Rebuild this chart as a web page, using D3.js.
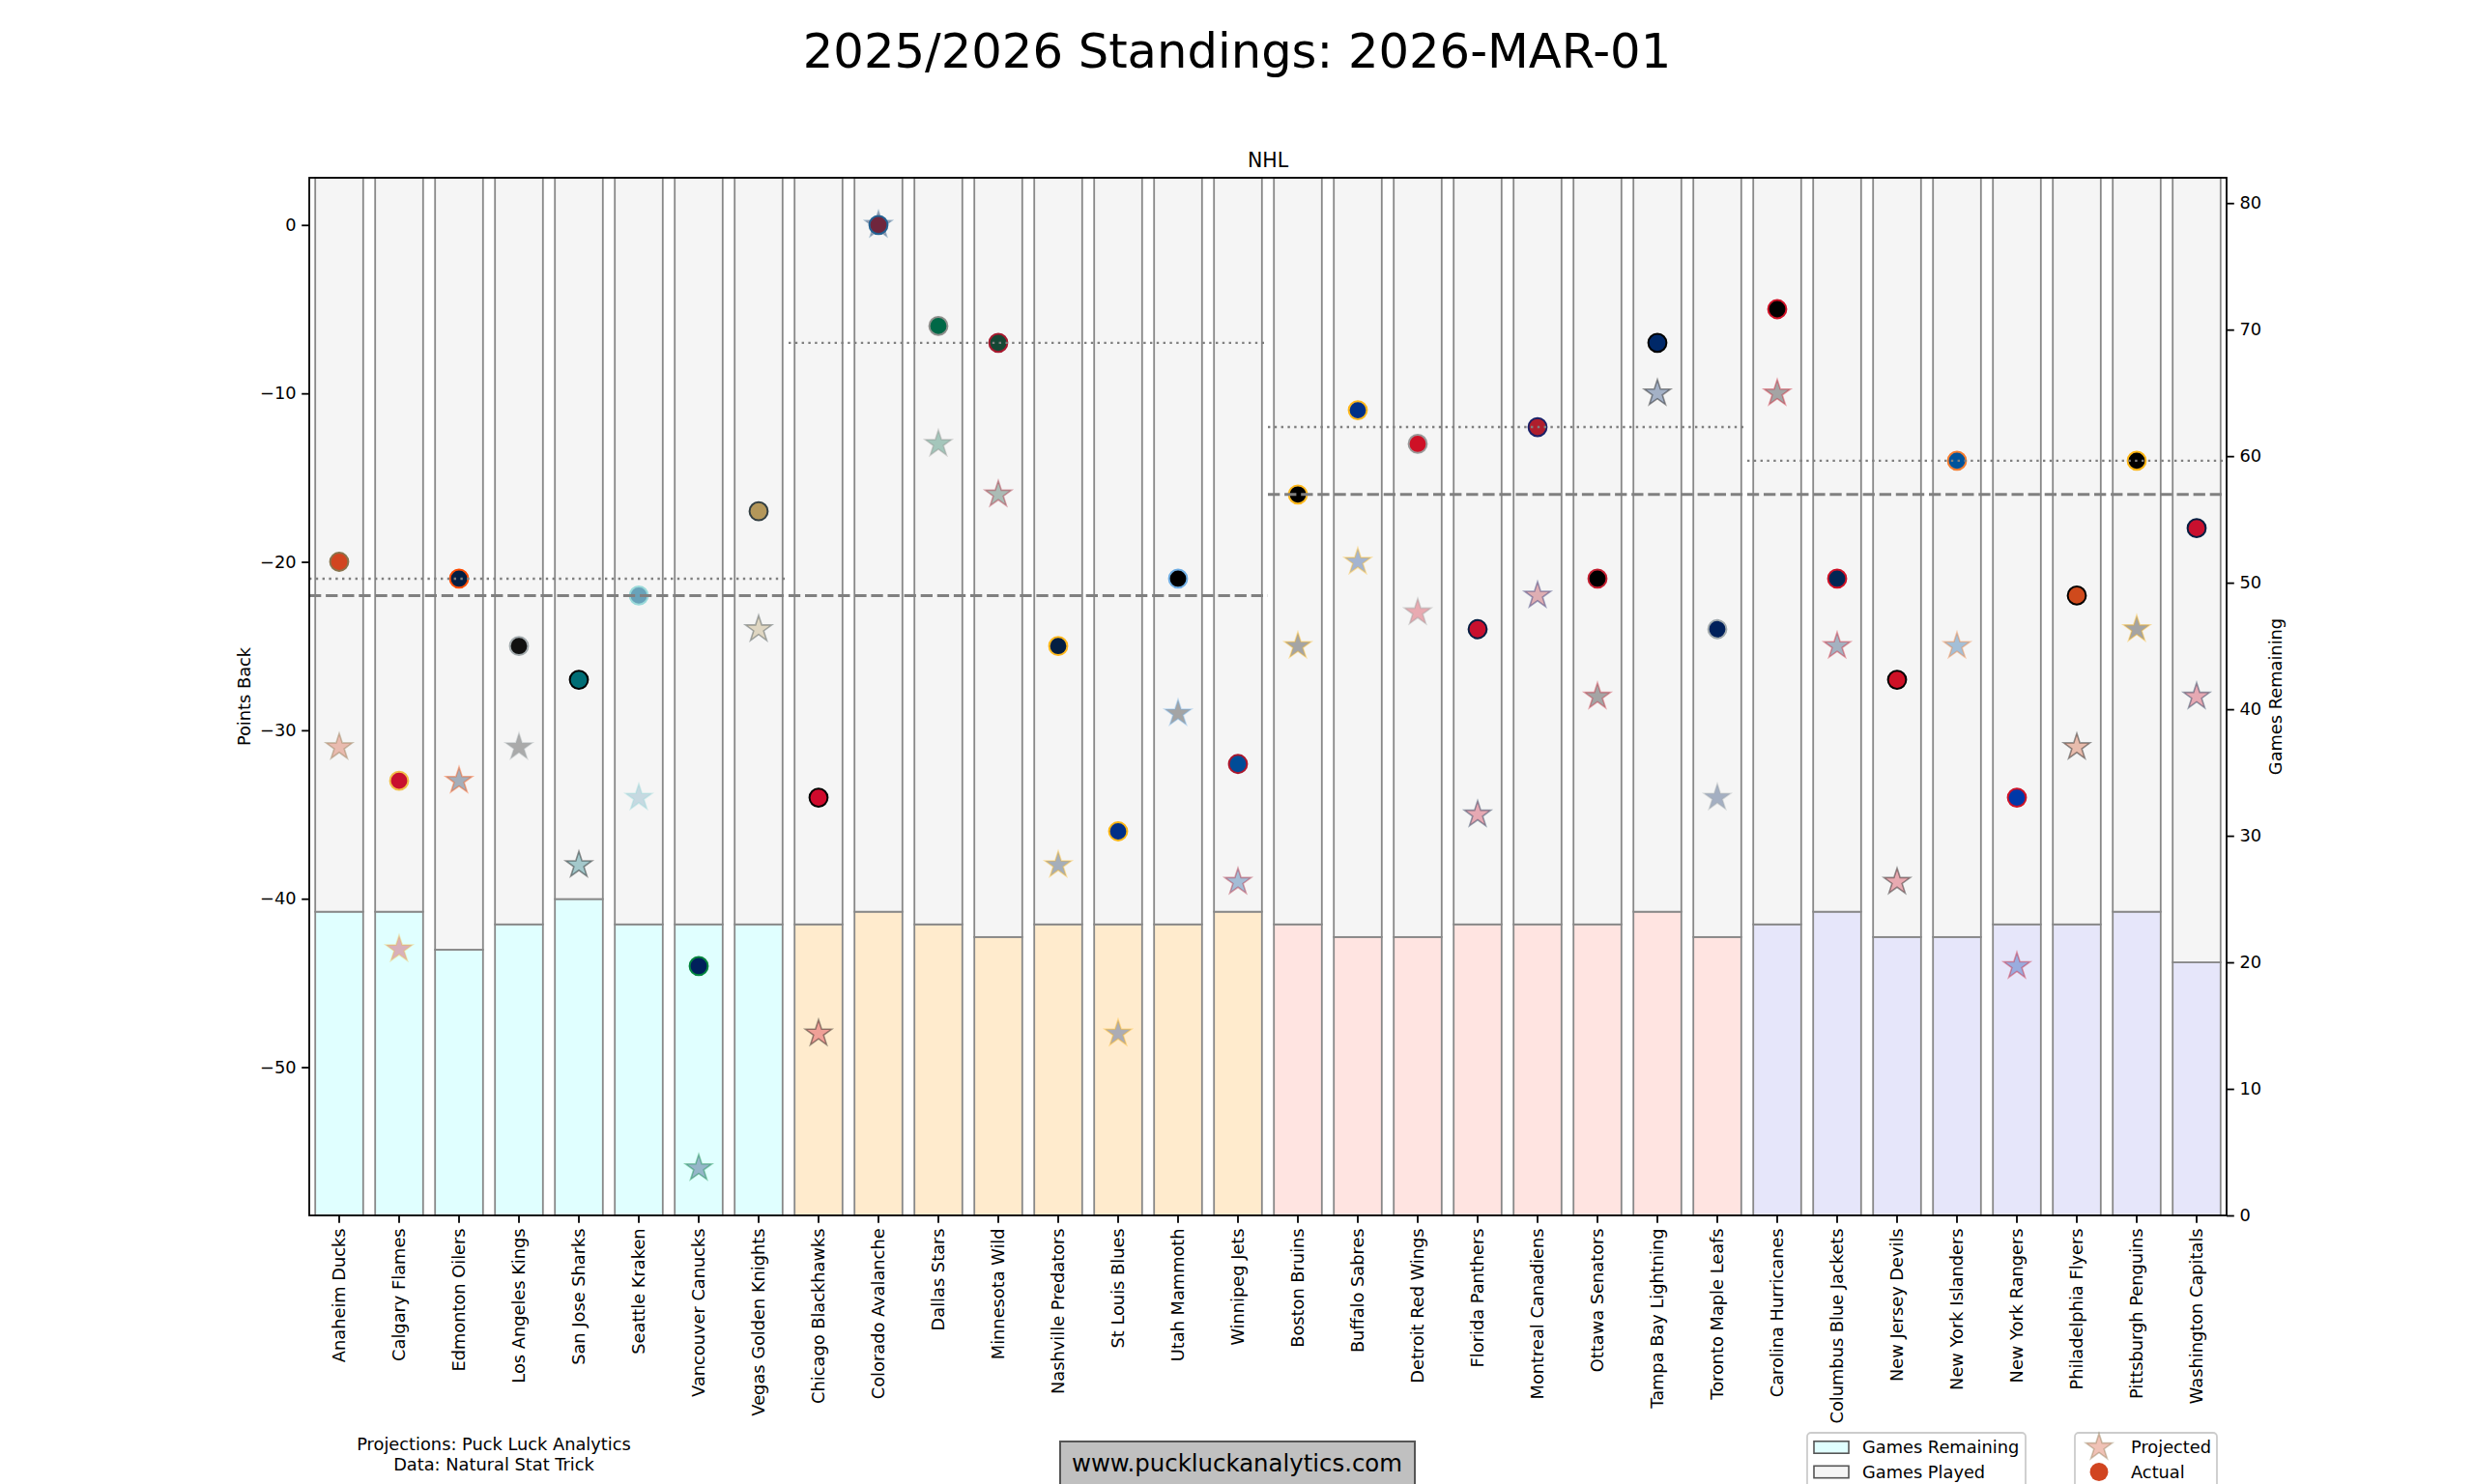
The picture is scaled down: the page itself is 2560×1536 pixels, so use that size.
<!DOCTYPE html>
<html>
<head>
<meta charset="utf-8">
<script src="https://cdn.jsdelivr.net/npm/d3@7"></script>
<style>
  body { margin: 0; background: #fff; }
  text { font-family: "DejaVu Sans", sans-serif; }
</style>
</head>
<body>
<div id="diagram_area"></div>
<script>
// Standings data

var teams = ["Anaheim Ducks", "Calgary Flames", "Edmonton Oilers", "Los Angeles Kings", "San Jose Sharks",
    "Seattle Kraken", "Vancouver Canucks", "Vegas Golden Knights", "Chicago Blackhawks", "Colorado Avalanche",
    "Dallas Stars", "Minnesota Wild", "Nashville Predators", "St Louis Blues", "Utah Mammoth", "Winnipeg Jets",
    "Boston Bruins", "Buffalo Sabres", "Detroit Red Wings", "Florida Panthers", "Montreal Canadiens",
    "Ottawa Senators", "Tampa Bay Lightning", "Toronto Maple Leafs", "Carolina Hurricanes",
    "Columbus Blue Jackets", "New Jersey Devils", "New York Islanders", "New York Rangers",
    "Philadelphia Flyers", "Pittsburgh Penguins", "Washington Capitals"];

var teamDivision = [0, 0, 0, 0, 0, 0, 0, 0, 1, 1, 1, 1, 1, 1, 1, 1,
    2, 2, 2, 2, 2, 2, 2, 2, 3, 3, 3, 3, 3, 3, 3, 3];

var actualBack = [-20, -33, -21, -25, -27, -22, -44, -17, -34, 0, -6, -7, -25, -36, -21, -32,
    -16, -11, -13, -24, -12, -21, -7, -24, -5, -21, -27, -14, -34, -22, -14, -18];

var projectedBack = [-31, -43, -33, -31, -38, -34, -56, -24, -48, 0, -13, -16, -38, -48, -29, -39,
    -25, -20, -23, -35, -22, -28, -10, -34, -10, -25, -39, -25, -44, -31, -24, -28];

var gamesRemaining = [24, 24, 21, 23, 25, 23, 23, 23, 23, 24, 23, 22, 23, 23, 23, 24,
    23, 22, 22, 23, 23, 23, 24, 22, 23, 24, 22, 22, 23, 23, 24, 20];

var gamesPlayed = [58, 58, 61, 59, 57, 59, 59, 59, 59, 58, 59, 60, 59, 59, 59, 58,
    59, 60, 60, 59, 59, 59, 58, 60, 59, 58, 60, 60, 59, 59, 58, 62];

var primaryColour = ["#D14520", "#C8102E", "#041E42", "#111111", "#006D75", "#68A2B9", "#00205B", "#B4975A",
    "#CF0A2C", "#6F263D", "#006847", "#154734", "#041E42", "#002F87", "#000000", "#004C97",
    "#000000", "#003087", "#CE1126", "#C8102E", "#AF1E2D", "#000000", "#002868", "#00205B",
    "#000000", "#002654", "#CE1126", "#00539B", "#0038A8", "#CF4A1C", "#000000", "#C8102E"];

var secondaryColour = ["#89734C", "#F1BE48", "#FF4C00", "#A2AAAD", "#000000", "#99D9D9", "#00843D", "#333F42",
    "#000000", "#236192", "#8F8F8C", "#A6192E", "#FFB81C", "#FCB514", "#71AFE5", "#AC162C",
    "#FFB81C", "#FFB81C", "#999999", "#041E42", "#192168", "#C52032", "#000000", "#A2AAAD",
    "#CE1126", "#CE1126", "#000000", "#F47D30", "#CE1126", "#000000", "#FCB514", "#041E42"];

var divisionColour = ["lightcyan", "blanchedalmond", "mistyrose", "lavender"];
var divisionCutoff = [-21, -7, -12, -14];
var conferenceCutoff = [-22, -16];
var conferenceDivisions = [[0, 1], [2, 3]];

var seasonGames = 82;
var pointTicks = [0, -10, -20, -30, -40, -50];
var gameTicks = [0, 10, 20, 30, 40, 50, 60, 70, 80];

function diagram() {
    var width = 2560, height = 1536;
    var plot = {left: 320, right: 2304, top: 184, bottom: 1258};
    var fs = 17.8;

    var svg = d3.select('#diagram_area').append("svg")
        .attr("width", width)
        .attr("height", height)
        .style("display", "block");

    svg.append("rect").attr("width", width).attr("height", height).attr("fill", "#fff");

    var x = d3.scaleBand()
        .domain(teams)
        .range([plot.left, plot.right])
        .paddingInner(0.2)
        .paddingOuter(0.1);

    var allPts = actualBack.concat(projectedBack),
        lo = d3.min(allPts), hi = d3.max(allPts),
        pad = (hi - lo) * 0.05;

    var yPts = d3.scaleLinear().domain([lo - pad, hi + pad]).range([plot.bottom, plot.top]);
    var yGames = d3.scaleLinear().domain([0, seasonGames]).range([plot.bottom, plot.top]);

    function cx(i) { return x(teams[i]) + x.bandwidth() / 2; }
    function edge(i) { return cx(i) - x.step() / 2; }

    // stacked bars: games remaining at the bottom, games played on top
    var bars = svg.append("g").attr("class", "bars");

    bars.selectAll("rect.remaining")
        .data(teams)
        .enter().append("rect")
        .attr("class", "remaining")
        .attr("x", function(d) { return x(d); })
        .attr("width", x.bandwidth())
        .attr("y", function(d, i) { return yGames(gamesRemaining[i]); })
        .attr("height", function(d, i) { return yGames(0) - yGames(gamesRemaining[i]); })
        .attr("fill", function(d, i) { return divisionColour[teamDivision[i]]; })
        .attr("stroke", "#888")
        .attr("stroke-width", 1.8);

    bars.selectAll("rect.played")
        .data(teams)
        .enter().append("rect")
        .attr("class", "played")
        .attr("x", function(d) { return x(d); })
        .attr("width", x.bandwidth())
        .attr("y", function(d, i) { return yGames(gamesRemaining[i] + gamesPlayed[i]); })
        .attr("height", function(d, i) { return yGames(gamesRemaining[i]) - yGames(gamesRemaining[i] + gamesPlayed[i]); })
        .attr("fill", "whitesmoke")
        .attr("stroke", "#888")
        .attr("stroke-width", 1.8);

    var star = d3.symbol().type(d3.symbolStar).size(230);

    svg.append("g").attr("class", "projected")
        .selectAll("path")
        .data(projectedBack)
        .enter().append("path")
        .attr("d", star)
        .attr("transform", function(d, i) { return "translate(" + cx(i) + "," + yPts(d) + ")"; })
        .attr("fill", function(d, i) { return primaryColour[i]; })
        .attr("fill-opacity", 0.33)
        .attr("stroke", function(d, i) { return secondaryColour[i]; })
        .attr("stroke-opacity", 0.4)
        .attr("stroke-width", 1.6);

    svg.append("g").attr("class", "actual")
        .selectAll("circle")
        .data(actualBack)
        .enter().append("circle")
        .attr("cx", function(d, i) { return cx(i); })
        .attr("cy", function(d) { return yPts(d); })
        .attr("r", 9.4)
        .attr("fill", function(d, i) { return primaryColour[i]; })
        .attr("stroke", function(d, i) { return secondaryColour[i]; })
        .attr("stroke-width", 2);

    // division (dotted) and conference (dashed) cutoffs
    var lines = svg.append("g").attr("class", "cutoffs");
    divisionCutoff.forEach(function(v, d) {
        var idx = teamDivision.map(function(t, i) { return t === d ? i : -1; }).filter(function(i) { return i >= 0; });
        lines.append("line")
            .attr("x1", edge(idx[0])).attr("x2", edge(idx[idx.length - 1]) + x.step())
            .attr("y1", yPts(v)).attr("y2", yPts(v))
            .attr("stroke", "grey")
            .attr("stroke-width", 2.4)
            .attr("stroke-dasharray", "2.4,4.4");
    });
    conferenceCutoff.forEach(function(v, c) {
        var idx = teamDivision.map(function(t, i) { return conferenceDivisions[c].indexOf(t) >= 0 ? i : -1; })
            .filter(function(i) { return i >= 0; });
        lines.append("line")
            .attr("x1", edge(idx[0])).attr("x2", edge(idx[idx.length - 1]) + x.step())
            .attr("y1", yPts(v)).attr("y2", yPts(v))
            .attr("stroke", "grey")
            .attr("stroke-width", 3)
            .attr("stroke-dasharray", "12.3,4.8");
    });

    // axes
    var axL = svg.append("g")
        .attr("transform", "translate(" + plot.left + ",0)")
        .call(d3.axisLeft(yPts).tickValues(pointTicks).tickSize(7.8).tickPadding(5.6));
    var axR = svg.append("g")
        .attr("transform", "translate(" + plot.right + ",0)")
        .call(d3.axisRight(yGames).tickValues(gameTicks).tickSize(7.8).tickPadding(5.6));
    var axB = svg.append("g")
        .attr("transform", "translate(0," + plot.bottom + ")")
        .call(d3.axisBottom(x).tickSize(7.8).tickPadding(5.6));

    [axL, axR, axB].forEach(function(a) {
        a.select(".domain").remove();
        a.selectAll(".tick line").attr("stroke", "#000").attr("stroke-width", 1.8);
        a.selectAll(".tick text").attr("font-size", fs).attr("fill", "#000")
            .attr("font-family", "DejaVu Sans");
    });

    axB.selectAll(".tick text")
        .attr("transform", "rotate(-90)")
        .attr("text-anchor", "end")
        .attr("x", -13.4)
        .attr("y", 0)
        .attr("dy", "0.35em");

    svg.append("rect")
        .attr("x", plot.left).attr("y", plot.top)
        .attr("width", plot.right - plot.left).attr("height", plot.bottom - plot.top)
        .attr("fill", "none")
        .attr("stroke", "#000")
        .attr("stroke-width", 1.8);

    // titles
    svg.append("text")
        .attr("x", width / 2).attr("y", 70)
        .attr("text-anchor", "middle")
        .attr("font-size", 49.6)
        .text("2025/2026 Standings: 2026-MAR-01");

    svg.append("text")
        .attr("x", (plot.left + plot.right) / 2).attr("y", 173)
        .attr("text-anchor", "middle")
        .attr("font-size", 20.5)
        .text("NHL");

    svg.append("text")
        .attr("transform", "translate(253," + (plot.top + plot.bottom) / 2 + ") rotate(-90)")
        .attr("text-anchor", "middle")
        .attr("dy", "0.35em")
        .attr("font-size", fs)
        .text("Points Back");

    svg.append("text")
        .attr("transform", "translate(2355," + (plot.top + plot.bottom) / 2 + ") rotate(-90)")
        .attr("text-anchor", "middle")
        .attr("dy", "0.35em")
        .attr("font-size", fs)
        .text("Games Remaining");

    // credits
    svg.append("text")
        .attr("x", 511).attr("y", 1495).attr("dy", "0.35em")
        .attr("text-anchor", "middle").attr("font-size", fs)
        .text("Projections: Puck Luck Analytics");
    svg.append("text")
        .attr("x", 511).attr("y", 1516).attr("dy", "0.35em")
        .attr("text-anchor", "middle").attr("font-size", fs)
        .text("Data: Natural Stat Trick");

    svg.append("rect")
        .attr("x", 1097).attr("y", 1492)
        .attr("width", 367).attr("height", 60)
        .attr("fill", "silver")
        .attr("stroke", "#555")
        .attr("stroke-width", 2);
    svg.append("text")
        .attr("x", 1280).attr("y", 1514).attr("dy", "0.35em")
        .attr("text-anchor", "middle").attr("font-size", 24.4)
        .text("www.puckluckanalytics.com");

    // legends
    var leg1 = svg.append("g");
    leg1.append("rect")
        .attr("x", 1870).attr("y", 1483).attr("width", 226).attr("height", 70).attr("rx", 4)
        .attr("fill", "#fff").attr("fill-opacity", 0.8)
        .attr("stroke", "#ccc").attr("stroke-width", 1.8);
    [["Games Remaining", divisionColour[0]], ["Games Played", "whitesmoke"]].forEach(function(e, i) {
        var yy = 1498 + i * 25.5;
        leg1.append("rect")
            .attr("x", 1877).attr("y", yy - 6.2).attr("width", 36).attr("height", 12.4)
            .attr("fill", e[1]).attr("stroke", "#555").attr("stroke-width", 1.6);
        leg1.append("text")
            .attr("x", 1927).attr("y", yy).attr("dy", "0.35em").attr("font-size", fs)
            .text(e[0]);
    });

    var leg2 = svg.append("g");
    leg2.append("rect")
        .attr("x", 2147).attr("y", 1483).attr("width", 147).attr("height", 70).attr("rx", 4)
        .attr("fill", "#fff").attr("fill-opacity", 0.8)
        .attr("stroke", "#ccc").attr("stroke-width", 1.8);
    leg2.append("path")
        .attr("d", star)
        .attr("transform", "translate(2172,1498)")
        .attr("fill", primaryColour[0]).attr("fill-opacity", 0.33)
        .attr("stroke", secondaryColour[0]).attr("stroke-opacity", 0.4).attr("stroke-width", 1.6);
    leg2.append("circle")
        .attr("cx", 2172).attr("cy", 1523.5).attr("r", 9.4)
        .attr("fill", primaryColour[0]);
    leg2.append("text")
        .attr("x", 2205).attr("y", 1498).attr("dy", "0.35em").attr("font-size", fs)
        .text("Projected");
    leg2.append("text")
        .attr("x", 2205).attr("y", 1523.5).attr("dy", "0.35em").attr("font-size", fs)
        .text("Actual");
}

diagram();
</script>
</body>
</html>
